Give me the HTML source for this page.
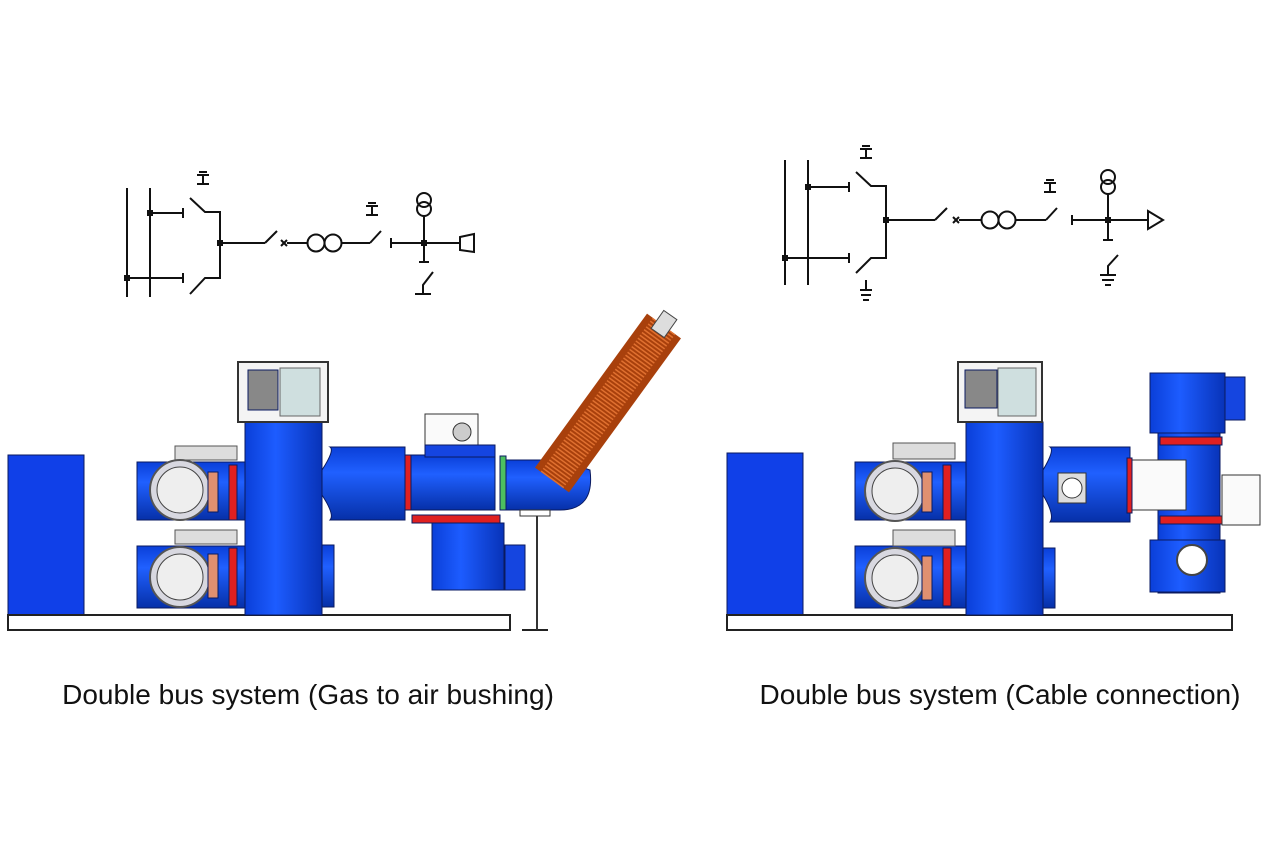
<!DOCTYPE html>
<html><head><meta charset="utf-8"><style>
html,body{margin:0;padding:0;background:#fff}
svg{display:block}
text{font-family:"Liberation Sans",sans-serif}
</style></head><body>
<svg width="1280" height="853" viewBox="0 0 1280 853" xmlns="http://www.w3.org/2000/svg">
<defs>
<linearGradient id="vb" x1="0" x2="1" y1="0" y2="0"><stop offset="0" stop-color="#0a3fd8"/><stop offset=".4" stop-color="#1d5cff"/><stop offset="1" stop-color="#0833b8"/></linearGradient>
<linearGradient id="hb" x1="0" x2="0" y1="0" y2="1"><stop offset="0" stop-color="#0a3fd8"/><stop offset=".35" stop-color="#2060ff"/><stop offset="1" stop-color="#0630a8"/></linearGradient>
<g id="earth"><line x1="-4" y1="0" x2="4" y2="0"/><line x1="-6" y1="3" x2="6" y2="3"/><line x1="0" y1="3" x2="0" y2="12"/><line x1="-6" y1="12" x2="6" y2="12"/></g>
</defs>

<!-- LEFT SCHEMATIC -->
<g stroke="#111" stroke-width="2" fill="none">
<line x1="127" y1="188" x2="127" y2="297"/><line x1="150" y1="188" x2="150" y2="297"/>
<line x1="150" y1="213" x2="183" y2="213"/><line x1="183" y1="208" x2="183" y2="218"/>
<line x1="127" y1="278" x2="183" y2="278"/><line x1="183" y1="273" x2="183" y2="283"/>
<polyline points="190,198 205,212 220,212 220,278 205,278 190,294"/>
<line x1="220" y1="243" x2="265" y2="243"/><line x1="265" y1="243" x2="277" y2="231"/>
<line x1="281" y1="240" x2="287" y2="246"/><line x1="281" y1="246" x2="287" y2="240"/>
<line x1="287" y1="243" x2="307" y2="243"/>
<circle cx="316" cy="243" r="8.5"/><circle cx="333" cy="243" r="8.5"/>
<line x1="342" y1="243" x2="370" y2="243"/><line x1="370" y1="243" x2="381" y2="231"/>
<use href="#earth" x="372" y="203"/><use href="#earth" x="203" y="172"/>
<line x1="391" y1="238" x2="391" y2="248"/><line x1="391" y1="243" x2="460" y2="243"/>
<circle cx="424" cy="200" r="7"/><circle cx="424" cy="209" r="7"/>
<line x1="424" y1="216" x2="424" y2="262"/><line x1="419" y1="262" x2="429" y2="262"/>
<polygon points="460,237 474,234 474,252 460,250"/>
<polyline points="433,272 423,285 423,294"/><line x1="415" y1="294" x2="431" y2="294"/>
</g>
<g fill="#111"><rect x="147" y="210" width="6" height="6"/><rect x="124" y="275" width="6" height="6"/><rect x="217" y="240" width="6" height="6"/><rect x="421" y="240" width="6" height="6"/></g>

<!-- RIGHT SCHEMATIC -->
<g stroke="#111" stroke-width="2" fill="none">
<line x1="785" y1="160" x2="785" y2="285"/><line x1="808" y1="160" x2="808" y2="285"/>
<line x1="808" y1="187" x2="849" y2="187"/><line x1="849" y1="182" x2="849" y2="192"/>
<line x1="785" y1="258" x2="849" y2="258"/><line x1="849" y1="253" x2="849" y2="263"/>
<polyline points="856,172 871,186 886,186 886,258 871,258 856,273"/>
<line x1="886" y1="220" x2="935" y2="220"/><line x1="935" y1="220" x2="947" y2="208"/>
<line x1="953" y1="217" x2="959" y2="223"/><line x1="953" y1="223" x2="959" y2="217"/>
<line x1="959" y1="220" x2="981" y2="220"/>
<circle cx="990" cy="220" r="8.5"/><circle cx="1007" cy="220" r="8.5"/>
<line x1="1016" y1="220" x2="1046" y2="220"/><line x1="1046" y1="220" x2="1057" y2="208"/>
<use href="#earth" x="1050" y="180"/><use href="#earth" x="866" y="146"/>
<line x1="866" y1="280" x2="866" y2="290"/><line x1="860" y1="290" x2="872" y2="290"/><line x1="861" y1="295" x2="871" y2="295"/><line x1="863" y1="300" x2="869" y2="300"/>
<line x1="1072" y1="215" x2="1072" y2="225"/><line x1="1072" y1="220" x2="1148" y2="220"/>
<circle cx="1108" cy="177" r="7"/><circle cx="1108" cy="187" r="7"/>
<line x1="1108" y1="194" x2="1108" y2="240"/><line x1="1103" y1="240" x2="1113" y2="240"/>
<polygon points="1148,211 1163,220 1148,229"/>
<polyline points="1118,255 1108,266 1108,275"/><line x1="1100" y1="275" x2="1116" y2="275"/><line x1="1102" y1="280" x2="1114" y2="280"/><line x1="1105" y1="285" x2="1111" y2="285"/>
</g>
<g fill="#111"><rect x="805" y="184" width="6" height="6"/><rect x="782" y="255" width="6" height="6"/><rect x="883" y="217" width="6" height="6"/><rect x="1105" y="217" width="6" height="6"/></g>

<!-- LEFT EQUIPMENT -->
<g stroke="#0a1a60" stroke-width="1">
<rect x="8" y="455" width="76" height="160" fill="#1040e8"/>
<rect x="8" y="615" width="502" height="15" fill="#fff" stroke="#222" stroke-width="2"/>
<line x1="522" y1="630" x2="548" y2="630" stroke="#222" stroke-width="2"/>
<line x1="537" y1="512" x2="537" y2="630" stroke="#333" stroke-width="2"/>
<rect x="137" y="462" width="108" height="58" fill="url(#hb)"/>
<rect x="137" y="546" width="108" height="62" fill="url(#hb)"/>
<rect x="175" y="446" width="62" height="14" fill="#ddd" stroke="#555"/>
<rect x="175" y="530" width="62" height="14" fill="#ddd" stroke="#555"/>
<circle cx="180" cy="490" r="30" fill="#d8d8e0" stroke="#555" stroke-width="2"/>
<circle cx="180" cy="490" r="23" fill="#eee" stroke="#444"/>
<circle cx="180" cy="577" r="30" fill="#d8d8e0" stroke="#555" stroke-width="2"/>
<circle cx="180" cy="577" r="23" fill="#eee" stroke="#444"/>
<rect x="208" y="472" width="10" height="40" fill="#e09070"/>
<rect x="208" y="554" width="10" height="44" fill="#e09070"/>
<rect x="229" y="465" width="8" height="55" fill="#e02020"/>
<rect x="229" y="548" width="8" height="58" fill="#e02020"/>
<rect x="245" y="422" width="77" height="193" fill="url(#vb)"/>
<rect x="238" y="362" width="90" height="60" fill="#f4f4f4" stroke="#333" stroke-width="2"/>
<rect x="248" y="370" width="30" height="40" fill="#888"/>
<rect x="280" y="368" width="40" height="48" fill="#cfdfdf" stroke="#666"/>
<path d="M322,470 Q335,450 330,447 L405,447 L405,520 L330,520 Q335,515 322,495 Z" fill="url(#hb)"/>
<rect x="322" y="545" width="12" height="62" fill="url(#hb)"/>
<rect x="405" y="455" width="90" height="55" fill="url(#hb)"/>
<rect x="405" y="455" width="6" height="55" fill="#e02020"/>
<rect x="425" y="414" width="53" height="33" fill="#fafafa" stroke="#333"/>
<circle cx="462" cy="432" r="9" fill="#ccc" stroke="#333"/>
<rect x="425" y="445" width="70" height="12" fill="#1545e0"/>
<rect x="412" y="515" width="88" height="8" fill="#e02020"/>
<rect x="432" y="523" width="72" height="67" fill="url(#vb)"/>
<rect x="505" y="545" width="20" height="45" fill="#1545e0"/>
<rect x="500" y="456" width="6" height="54" fill="#4cc060"/>
<path d="M506,460 L560,460 L590,470 Q595,510 560,510 L506,510 Z" fill="url(#hb)"/>
<rect x="520" y="510" width="30" height="6" fill="#fff" stroke="#333"/>
<line x1="552" y1="480" x2="664" y2="326" stroke="#a8400c" stroke-width="42"/>
<line x1="552" y1="480" x2="664" y2="326" stroke="#e07030" stroke-width="28" stroke-dasharray="1.5 2"/>
<rect x="653" y="316" width="22" height="16" fill="#ddd" stroke="#444" transform="rotate(-55 664 324)"/>
</g>

<!-- RIGHT EQUIPMENT -->
<g stroke="#0a1a60" stroke-width="1">
<rect x="727" y="453" width="76" height="162" fill="#1040e8"/>
<rect x="727" y="615" width="505" height="15" fill="#fff" stroke="#222" stroke-width="2"/>
<rect x="855" y="462" width="111" height="58" fill="url(#hb)"/>
<rect x="855" y="546" width="111" height="62" fill="url(#hb)"/>
<rect x="893" y="443" width="62" height="16" fill="#ddd" stroke="#555"/>
<rect x="893" y="530" width="62" height="16" fill="#ddd" stroke="#555"/>
<circle cx="895" cy="491" r="30" fill="#d8d8e0" stroke="#555" stroke-width="2"/>
<circle cx="895" cy="491" r="23" fill="#eee" stroke="#444"/>
<circle cx="895" cy="578" r="30" fill="#d8d8e0" stroke="#555" stroke-width="2"/>
<circle cx="895" cy="578" r="23" fill="#eee" stroke="#444"/>
<rect x="922" y="472" width="10" height="40" fill="#e09070"/>
<rect x="922" y="556" width="10" height="44" fill="#e09070"/>
<rect x="943" y="465" width="8" height="55" fill="#e02020"/>
<rect x="943" y="548" width="8" height="58" fill="#e02020"/>
<rect x="966" y="422" width="77" height="193" fill="url(#vb)"/>
<rect x="958" y="362" width="84" height="60" fill="#f4f4f4" stroke="#333" stroke-width="2"/>
<rect x="965" y="370" width="32" height="38" fill="#888"/>
<rect x="998" y="368" width="38" height="48" fill="#cfdfdf" stroke="#666"/>
<path d="M1043,470 Q1055,450 1050,447 L1130,447 L1130,522 L1050,522 Q1055,515 1043,495 Z" fill="url(#hb)"/>
<rect x="1043" y="548" width="12" height="60" fill="url(#hb)"/>
<rect x="1058" y="473" width="28" height="30" fill="#ddd" stroke="#333"/>
<circle cx="1072" cy="488" r="10" fill="#fff" stroke="#333"/>
<rect x="1150" y="373" width="75" height="60" fill="url(#vb)"/>
<rect x="1225" y="377" width="20" height="43" fill="#1545e0"/>
<rect x="1158" y="433" width="62" height="160" fill="url(#vb)"/>
<rect x="1150" y="540" width="75" height="52" fill="url(#vb)"/>
<rect x="1160" y="437" width="62" height="8" fill="#e02020"/>
<rect x="1160" y="516" width="62" height="8" fill="#e02020"/>
<rect x="1130" y="460" width="56" height="50" fill="#fafafa" stroke="#333"/>
<rect x="1127" y="458" width="5" height="55" fill="#e02020"/>
<rect x="1222" y="475" width="38" height="50" fill="#fafafa" stroke="#333"/>
<circle cx="1192" cy="560" r="15" fill="#fff" stroke="#444" stroke-width="2"/>
</g>

<text x="308" y="704" font-size="28" text-anchor="middle" fill="#111">Double bus system (Gas to air bushing)</text>
<text x="1000" y="704" font-size="28" text-anchor="middle" fill="#111">Double bus system (Cable connection)</text>
</svg>
</body></html>
